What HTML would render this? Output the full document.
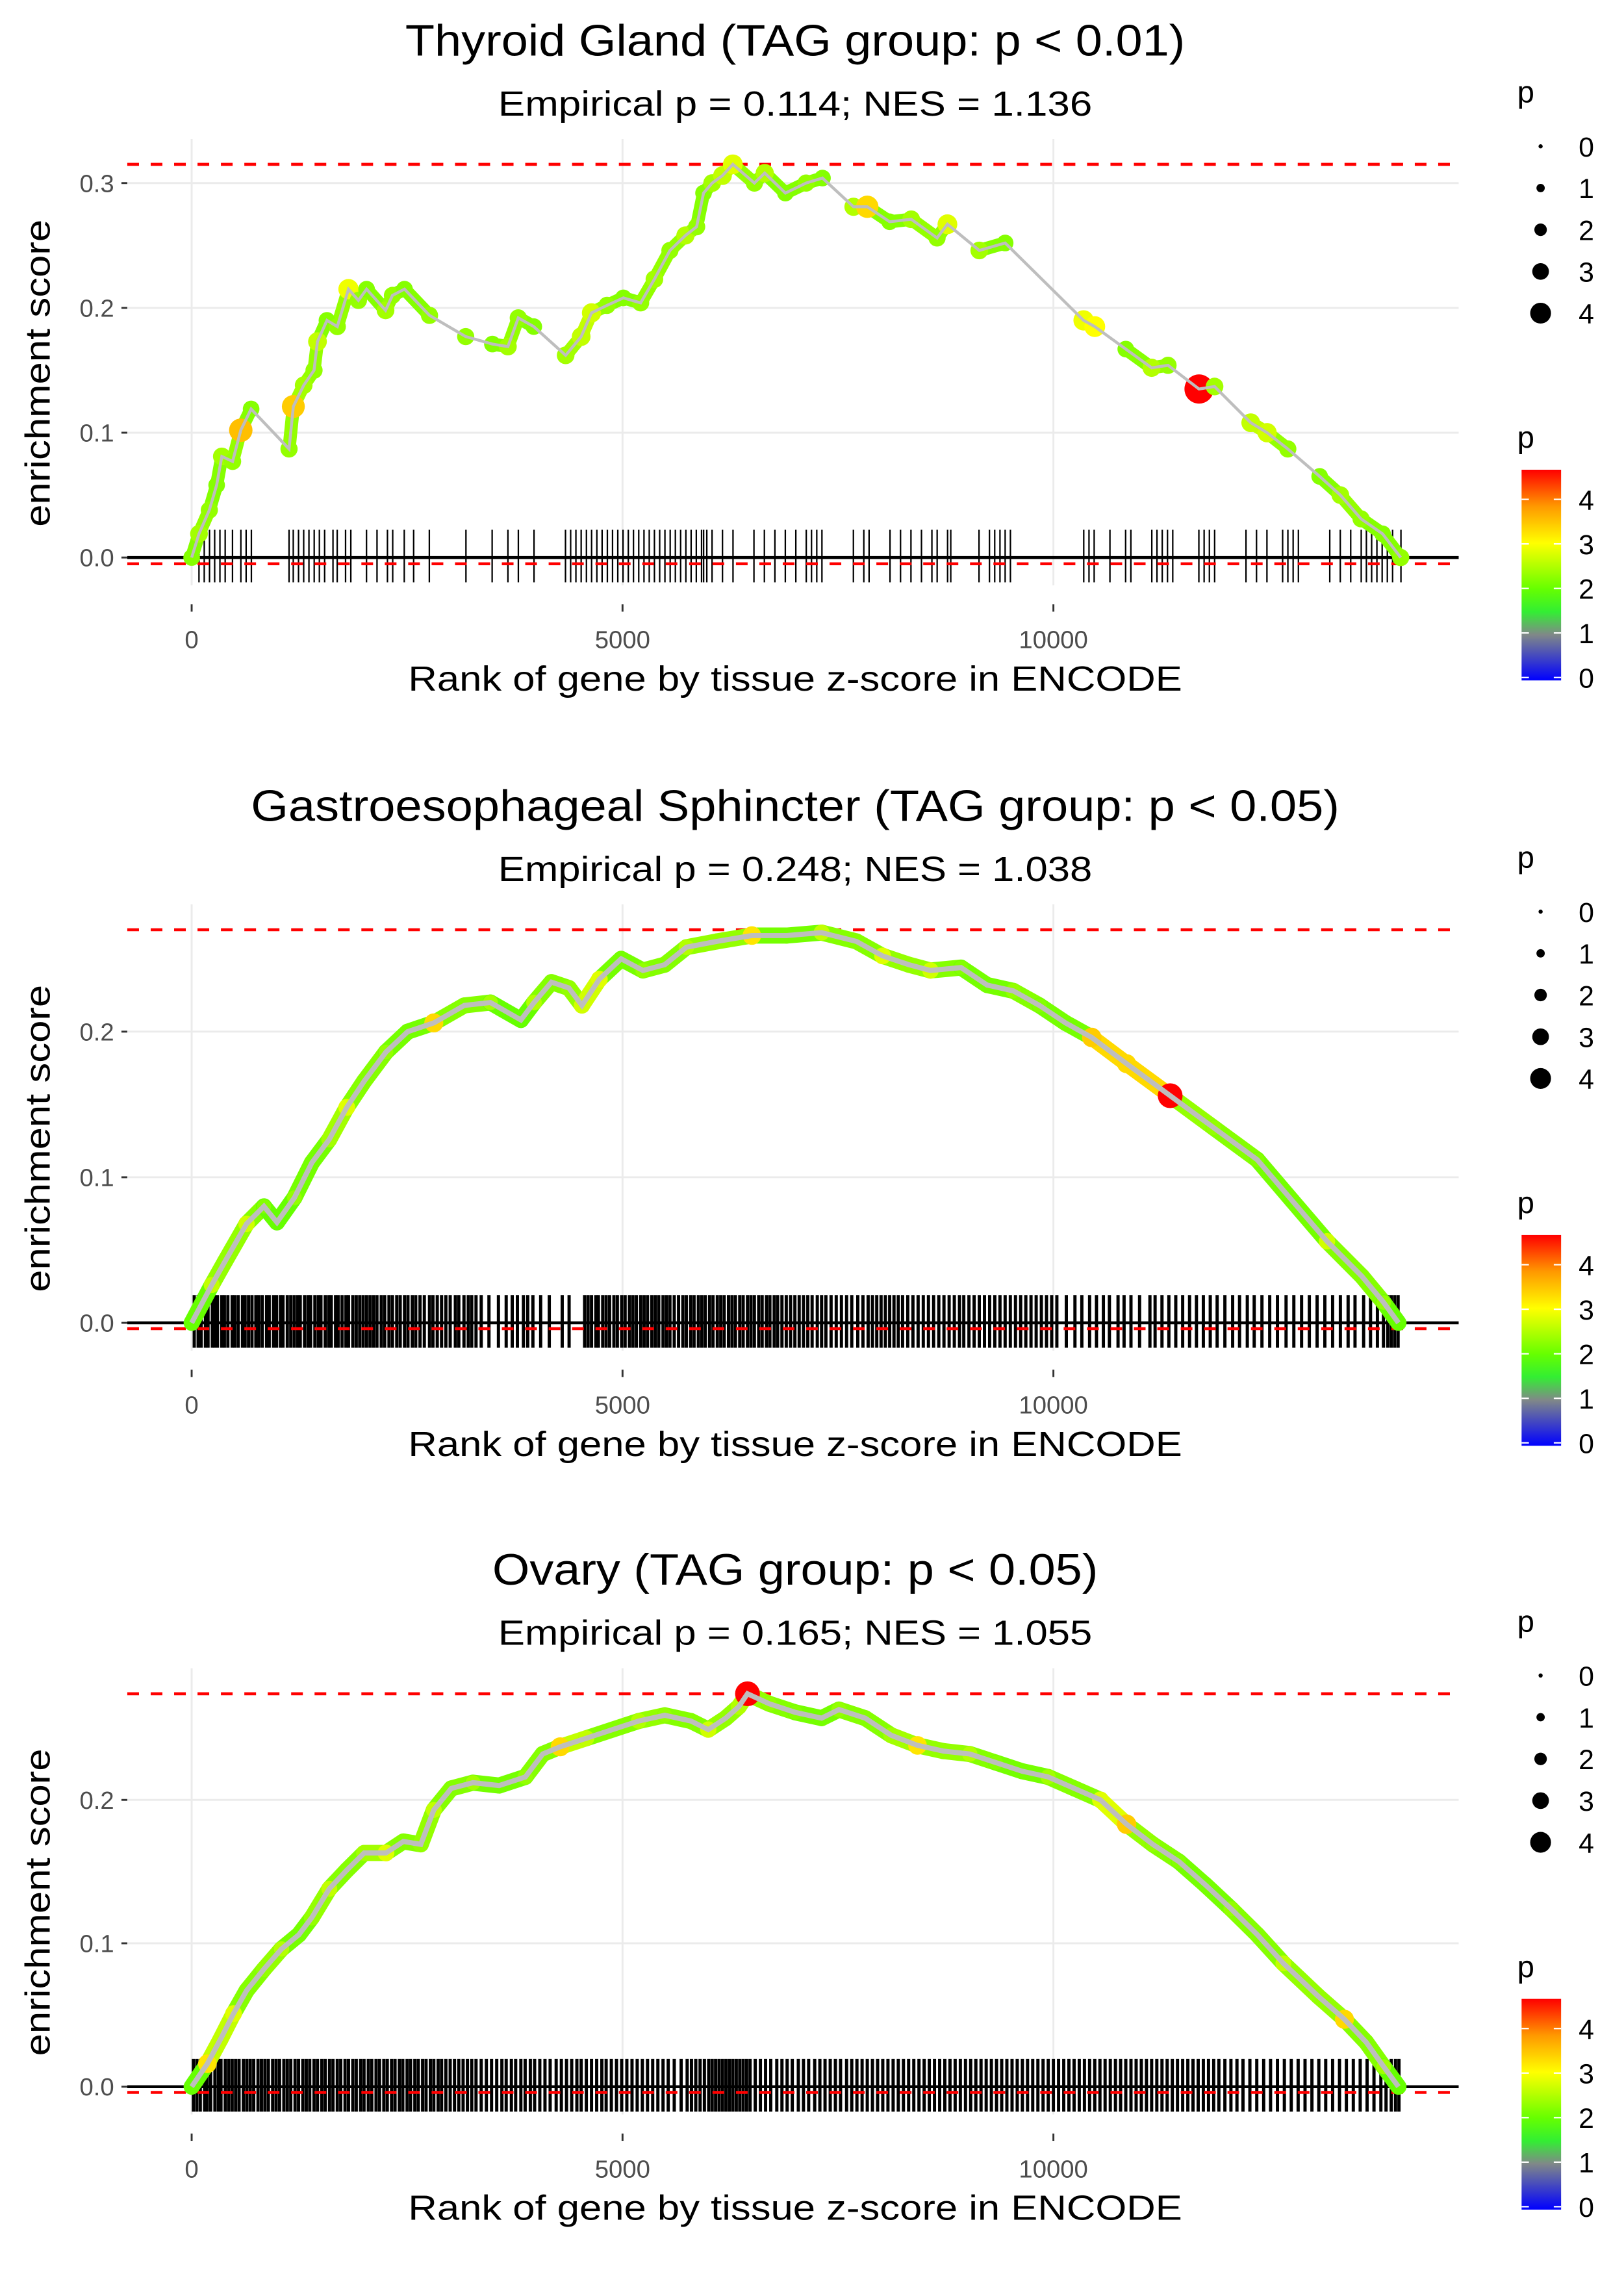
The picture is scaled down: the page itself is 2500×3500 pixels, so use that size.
<!DOCTYPE html>
<html><head><meta charset="utf-8"><style>
html,body{margin:0;padding:0;background:#fff}
svg{display:block}
text{font-family:"Liberation Sans",sans-serif}
</style></head><body>
<svg id="fig" width="2500" height="3500" viewBox="0 0 1110 1554" preserveAspectRatio="none" xmlns="http://www.w3.org/2000/svg"></svg>
<script>
// ---------- data ----------
const xTickValues = [0, 5000, 10000];
const xTickLabels = ["0", "5000", "10000"];
const yTicks1 = [0, 0.1, 0.2, 0.3];
const yTicks2 = [0, 0.1, 0.2];
const yTicks3 = [0, 0.1, 0.2];
const legendSizes = [0, 1, 2, 3, 4];
const colorbarTicks = [0, 1, 2, 3, 4];

const titles = ["Thyroid Gland (TAG group: p < 0.01)", "Gastroesophageal Sphincter (TAG group: p < 0.05)", "Ovary (TAG group: p < 0.05)"];
const subtitles = ["Empirical p = 0.114; NES = 1.136", "Empirical p = 0.248; NES = 1.038", "Empirical p = 0.165; NES = 1.055"];
const maxES = [0.315, 0.27, 0.274];
const minES = [-0.005, -0.004, -0.004];

const t1Ranks = [0,85,205,290,350,475,570,690,1130,1180,1300,1420,1460,1570,1690,1820,1935,2030,2250,2330,2470,2760,3180,3490,3670,3790,3970,4340,4520,4640,4820,5010,5210,5370,5550,5730,5860,5940,6040,6160,6280,6530,6650,6890,7130,7320,7680,7840,8100,8350,8650,8770,9140,9440,10350,10480,10840,11140,11330,11690,11870,12290,12480,12720,13090,13330,13570,13820,14030];
const t1ES = [0,.019,.038,.058,.081,.077,.102,.119,.087,.121,.138,.15,.173,.19,.185,.215,.206,.215,.198,.21,.215,.194,.177,.171,.169,.192,.185,.162,.177,.196,.202,.208,.204,.223,.246,.258,.265,.292,.3,.306,.315,.3,.308,.292,.3,.304,.281,.281,.269,.271,.256,.267,.246,.252,.19,.185,.167,.152,.154,.135,.137,.108,.1,.087,.065,.05,.031,.019,0];
const t1P = [2.2,2.4,2.3,2.2,2.4,2.3,3.5,2.2,2.3,3.4,2.4,2.3,2.6,2.2,2.3,2.9,2.3,2.2,2.4,2.3,2.2,2.3,2.3,2.2,2.4,2.3,2.2,2.4,2.6,2.7,2.3,2.2,2.3,2.4,2.3,2.5,2.3,2.2,2.4,2.6,2.8,2.3,2.5,2.2,2.3,2.2,2.5,3.3,2.2,2.4,2.3,2.8,2.4,2.2,2.9,3.0,2.2,2.5,2.3,4.6,2.4,2.6,2.7,2.3,2.2,2.4,2.3,2.2,2.3];
const t1Rug = [85,146,207,267,328,389,474,571,632,693,1130,1179,1240,1300,1361,1422,1482,1543,1640,1689,1786,1847,2029,2151,2272,2333,2467,2576,2758,3183,3487,3670,3791,3973,4338,4398,4459,4520,4581,4641,4702,4763,4824,4884,4945,5006,5067,5127,5188,5249,5310,5370,5431,5492,5553,5613,5674,5735,5796,5856,5917,5941,5978,6039,6160,6282,6525,6646,6768,6889,7011,7132,7193,7254,7314,7679,7800,7861,8104,8226,8347,8469,8590,8651,8772,8809,9137,9258,9319,9380,9440,9501,10352,10413,10473,10656,10838,10899,11142,11202,11263,11324,11385,11688,11749,11810,11871,12235,12357,12478,12660,12721,12782,12843,13207,13329,13450,13572,13632,13693,13754,13815,13875,13936,14033];

const t2Ranks = [0,233,385,637,839,990,1193,1395,1597,1800,2002,2255,2507,2810,3164,3467,3821,3973,4175,4377,4529,4731,4984,5237,5490,5742,6097,6501,6906,7310,7714,8018,8321,8574,8928,9231,9535,9838,10141,10445,10849,11355,11860,12366,12770,13175,13579,13832,14004];
const t2ES = [0,.026,.042,.068,.08,.069,.086,.11,.126,.148,.166,.186,.2,.206,.218,.22,.208,.22,.234,.23,.218,.236,.25,.242,.246,.258,.262,.266,.266,.268,.262,.252,.246,.242,.244,.232,.228,.218,.206,.196,.178,.156,.134,.112,.084,.056,.032,.014,0];
const t2P = [2.0,2.6,2.3,2.7,2.2,2.0,2.3,2.1,2.4,2.8,2.2,2.3,2.1,3.3,2.2,2.4,2.0,2.5,2.2,2.3,2.7,2.8,2.1,2.3,2.2,2.5,2.3,3.2,2.1,2.6,2.2,2.8,2.3,2.7,2.2,2.1,2.3,2.2,2.1,3.4,3.3,4.6,2.3,2.2,2.1,2.7,2.2,2.3,2.0];
const t2Rug = [30,75,110,160,190,240,265,300,350,380,420,470,500,540,590,620,660,700,745,780,820,870,900,950,985,1030,1060,1110,1150,1190,1230,1260,1310,1350,1380,1430,1470,1500,1550,1590,1620,1670,1700,1745,1790,1820,1870,1910,1950,1990,2030,2070,2110,2150,2200,2240,2290,2330,2380,2420,2470,2510,2560,2600,2650,2700,2760,2800,2850,2900,2950,3000,3060,3100,3160,3210,3250,3300,3360,3450,3560,3650,3720,3780,3850,3900,3960,4050,4150,4300,4380,4560,4600,4640,4690,4720,4770,4810,4850,4900,4940,4990,5030,5080,5120,5160,5210,5250,5290,5340,5380,5420,5470,5510,5550,5600,5650,5700,5740,5790,5830,5880,5920,5960,6010,6050,6100,6140,6180,6230,6270,6310,6360,6400,6450,6490,6530,6580,6620,6670,6710,6760,6800,6850,6900,6950,7000,7050,7100,7150,7200,7260,7310,7360,7420,7480,7540,7600,7660,7730,7790,7850,7900,7950,8000,8050,8100,8150,8200,8250,8310,8370,8430,8490,8550,8610,8670,8730,8790,8850,8910,8960,9020,9080,9140,9200,9260,9320,9380,9440,9500,9560,9620,9680,9740,9800,9860,9920,9980,10040,10150,10250,10330,10420,10500,10580,10650,10750,10820,10900,11000,11120,11180,11260,11340,11420,11500,11580,11660,11740,11820,11900,11990,12080,12160,12250,12330,12420,12510,12600,12700,12790,12880,12970,13060,13150,13240,13330,13420,13500,13600,13680,13760,13830,13880,13920,13960,14000];

const t3Ranks = [0,182,334,486,637,839,1042,1244,1395,1597,1800,2002,2255,2457,2659,2810,3013,3265,3568,3872,4074,4276,4580,4883,5187,5490,5793,5995,6198,6349,6450,6703,7007,7310,7512,7816,8119,8423,8726,9029,9333,9636,9939,10243,10546,10849,11153,11456,11759,12063,12366,12669,13074,13377,13630,13832,14004];
const t3ES = [0,.016,.033,.051,.067,.082,.096,.106,.118,.138,.151,.163,.163,.171,.169,.193,.208,.212,.21,.216,.232,.237,.243,.249,.255,.259,.255,.249,.257,.265,.274,.267,.261,.257,.263,.257,.245,.238,.234,.232,.226,.22,.216,.208,.2,.183,.169,.157,.141,.124,.106,.086,.063,.047,.031,.014,0];
const t3P = [2.0,3.2,2.6,2.8,2.2,2.3,2.5,2.1,2.3,2.6,2.2,2.4,2.8,2.2,2.3,2.6,2.2,2.4,2.1,2.3,2.2,3.3,2.6,2.2,2.5,2.3,2.2,2.7,2.3,2.5,4.6,2.3,2.2,2.1,2.3,2.2,2.4,3.2,2.3,2.5,2.2,2.1,2.4,2.2,2.8,3.4,2.3,2.2,2.1,2.3,2.2,2.6,2.3,3.3,2.2,2.4,2.0];
const t3Rug = [20,60,100,150,180,220,270,310,340,390,430,470,510,550,600,640,680,720,770,810,850,890,940,980,1020,1070,1110,1150,1200,1240,1290,1330,1370,1420,1460,1510,1550,1600,1640,1690,1730,1780,1820,1870,1910,1960,2000,2050,2090,2140,2180,2230,2270,2320,2360,2410,2450,2500,2540,2590,2630,2680,2720,2770,2810,2860,2900,2950,3000,3050,3100,3150,3200,3250,3300,3360,3420,3480,3540,3600,3650,3710,3760,3820,3870,3930,3980,4040,4100,4160,4230,4290,4350,4410,4470,4520,4580,4640,4700,4760,4810,4870,4930,4990,5050,5110,5170,5230,5290,5350,5410,5470,5530,5600,5680,5750,5800,5850,5900,5950,6000,6040,6080,6120,6160,6200,6240,6280,6320,6360,6400,6440,6480,6540,6600,6660,6720,6790,6850,6910,6970,7040,7100,7160,7230,7290,7350,7410,7470,7530,7600,7660,7720,7780,7840,7900,7960,8020,8080,8140,8200,8260,8320,8380,8440,8500,8560,8620,8680,8740,8800,8860,8920,8980,9040,9100,9160,9220,9280,9340,9400,9460,9520,9580,9640,9700,9760,9820,9880,9940,10000,10060,10120,10180,10240,10300,10360,10420,10480,10540,10600,10660,10720,10780,10840,10900,10960,11020,11080,11140,11200,11260,11320,11380,11440,11500,11560,11620,11680,11740,11800,11860,11920,11990,12060,12130,12200,12280,12360,12440,12520,12600,12680,12760,12840,12920,13000,13080,13160,13240,13320,13400,13480,13560,13640,13720,13800,13860,13920,13970,14010];

// ---------- helpers ----------
const NS = "http://www.w3.org/2000/svg";
const svg = document.getElementById("fig");
function mk(tag, attrs, parent) {
  const e = document.createElementNS(NS, tag);
  for (const k in attrs) e.setAttribute(k, attrs[k]);
  (parent || svg).appendChild(e);
  return e;
}
const stops = [[0,[0,0,255]],[1.0,[128,136,136]],[1.5,[51,238,51]],[2.0,[102,255,0]],[3.0,[255,255,0]],[3.8,[255,153,0]],[4.6,[255,0,0]]];
function pColor(p) {
  if (p <= stops[0][0]) return "rgb(0,0,255)";
  for (let i = 1; i < stops.length; i++) {
    if (p <= stops[i][0]) {
      const a = stops[i-1], b = stops[i], t = (p - a[0]) / (b[0] - a[0]);
      const c = a[1].map((v, j) => Math.round(v + (b[1][j] - v) * t));
      return "rgb(" + c.join(",") + ")";
    }
  }
  return "rgb(255,0,0)";
}
function pRadius(p) { return 1.78 * (p + 1); }
const xScale = r => 131 + r * 294.5 / 5000;
const PL = 87, PR = 997;

function drawPanel(i, off, y0, pxPer, yTicks, ranks, es, pv, rug, thin) {
  const g = mk("g", {});
  
  
  const yS = v => y0 - v * pxPer;
  const top = 95 + off, bot = 400 + off;
  yTicks.forEach(v => {
    const l = mk("line", {x1: PL, x2: PR, y1: yS(v), y2: yS(v), stroke: "#ebebeb", "stroke-width": 1.3}, g);
    
    
  });
  xTickValues.forEach(v => {
    const l = mk("line", {x1: xScale(v), x2: xScale(v), y1: top, y2: bot, stroke: "#ebebeb", "stroke-width": 1.3}, g);
    
    
  });
  const rg = mk("g", {}, g);
  
  
  rug.forEach(r => {
    const l = mk("line", {x1: xScale(r), x2: xScale(r), y1: 362 + off, y2: 398 + off, stroke: "#000", "stroke-width": thin ? 1 : 2.2}, rg);
    
    
  });
  const z = mk("line", {x1: PL, x2: PR, y1: yS(0), y2: yS(0), stroke: "#000", "stroke-width": 2}, g);
  
  
  [maxES[i], minES[i]].forEach((v, k) => {
    const l = mk("line", {x1: PL, x2: PR, y1: yS(v), y2: yS(v), stroke: "#ff0000", "stroke-width": 2, "stroke-dasharray": "8,8"}, g);
    
    
  });
  for (let k = 1; k < ranks.length; k++) {
    if (thin && ranks[k] - ranks[k-1] > 300) continue;
    const l = mk("line", {x1: xScale(ranks[k-1]), y1: yS(es[k-1]), x2: xScale(ranks[k]), y2: yS(es[k]), stroke: pColor(Math.min(pv[k], pv[k-1])), "stroke-width": thin ? 9 : 11, "stroke-linecap": "round"}, g);
    
    
  }
  ranks.forEach((r, k) => {
    const c = mk("circle", {cx: xScale(r), cy: yS(es[k]), r: pRadius(pv[k]) * (thin ? 1 : 0.85), fill: pColor(pv[k])}, g);
    
    
  });
  const pl = mk("polyline", {points: ranks.map((r, k) => xScale(r) + "," + yS(es[k])).join(" "), fill: "none", stroke: "#bebebe", "stroke-width": thin ? 2 : 3.5}, g);
  
  
  yTicks.forEach(v => {
    const t = mk("line", {x1: 83, x2: 87, y1: yS(v), y2: yS(v), stroke: "#333", "stroke-width": 1.3}, g);
    
    
    const tx = mk("text", {x: 78, y: yS(v) + 6, "text-anchor": "end", "font-size": 17, fill: "#4d4d4d"}, g);
    tx.textContent = v.toFixed(1);
    
    
  });
  xTickValues.forEach((v, k) => {
    const t = mk("line", {x1: xScale(v), x2: xScale(v), y1: 413 + off, y2: 418 + off, stroke: "#333", "stroke-width": 1.3}, g);
    
    
    const tx = mk("text", {x: xScale(v), y: 443 + off, "text-anchor": "middle", "font-size": 17, fill: "#4d4d4d"}, g);
    tx.textContent = xTickLabels[k];
    
    
  });
  const xt = mk("text", {x: 543.5, y: 472 + off, "text-anchor": "middle", "font-size": 24, textLength: 529, lengthAdjust: "spacingAndGlyphs"}, g);
  xt.textContent = "Rank of gene by tissue z-score in ENCODE";
  
  
  const yt = mk("text", {x: 0, y: 0, "text-anchor": "middle", "font-size": 24, textLength: 210, lengthAdjust: "spacingAndGlyphs", transform: "translate(34," + (255 + off) + ") rotate(-90)"}, g);
  yt.textContent = "enrichment score";
  
  
  const titleW = [533, 744, 414][i];
  const tt = mk("text", {x: 543.5, y: 38 + off, "text-anchor": "middle", "font-size": 30, textLength: titleW, lengthAdjust: "spacingAndGlyphs"}, g);
  tt.textContent = titles[i];
  
  
  const st = mk("text", {x: 543.5, y: 79 + off, "text-anchor": "middle", "font-size": 24, textLength: 406, lengthAdjust: "spacingAndGlyphs"}, g);
  st.textContent = subtitles[i];
  
  

  const lg = mk("g", {}, g);
  
  
  const lt = mk("text", {x: 1037, y: 70 + off, "font-size": 21}, lg);
  lt.textContent = "p";
  
  
  legendSizes.forEach((s, k) => {
    const cy = 100 + k * 28.5 + off;
    const c = mk("circle", {cx: 1053, cy: cy, r: pRadius(s) * 0.8}, lg);
    
    
    const tx = mk("text", {x: 1079, y: cy + 7, "font-size": 19}, lg);
    tx.textContent = String(s);
    
    
  });
  const cg = mk("g", {}, g);
  
  
  const ct = mk("text", {x: 1037, y: 306 + off, "font-size": 21}, cg);
  ct.textContent = "p";
  
  
  const barTop = 321 + off, barBot = 465 + off, pMax = 4.6;
  const cb = mk("rect", {x: 1040, y: barTop, width: 27, height: barBot - barTop, fill: "url(#cbgrad)"}, cg);
  
  
  colorbarTicks.forEach(v => {
    const y = barBot - 2 - v / pMax * (barBot - barTop - 4);
    mk("line", {x1: 1040, x2: 1045, y1: y, y2: y, stroke: "#fff", "stroke-width": 1}, cg);
    mk("line", {x1: 1062, x2: 1067, y1: y, y2: y, stroke: "#fff", "stroke-width": 1}, cg);
    const tx = mk("text", {x: 1079, y: y + 7, "font-size": 19}, cg);
    tx.textContent = String(v);
    
    
  });
}

const defs = mk("defs", {});
const lgd = mk("linearGradient", {id: "cbgrad", x1: 0, y1: 1, x2: 0, y2: 0}, defs);
stops.forEach(s => mk("stop", {offset: (s[0] / 4.6 * 100).toFixed(1) + "%", "stop-color": pColor(s[0])}, lgd));

drawPanel(0, 0, 381, 853, yTicks1, t1Ranks, t1ES, t1P, t1Rug, true);
drawPanel(1, 523, 904, 995, yTicks2, t2Ranks, t2ES, t2P, t2Rug, false);
drawPanel(2, 1045, 1426, 980, yTicks3, t3Ranks, t3ES, t3P, t3Rug, false);
</script>
</body></html>
